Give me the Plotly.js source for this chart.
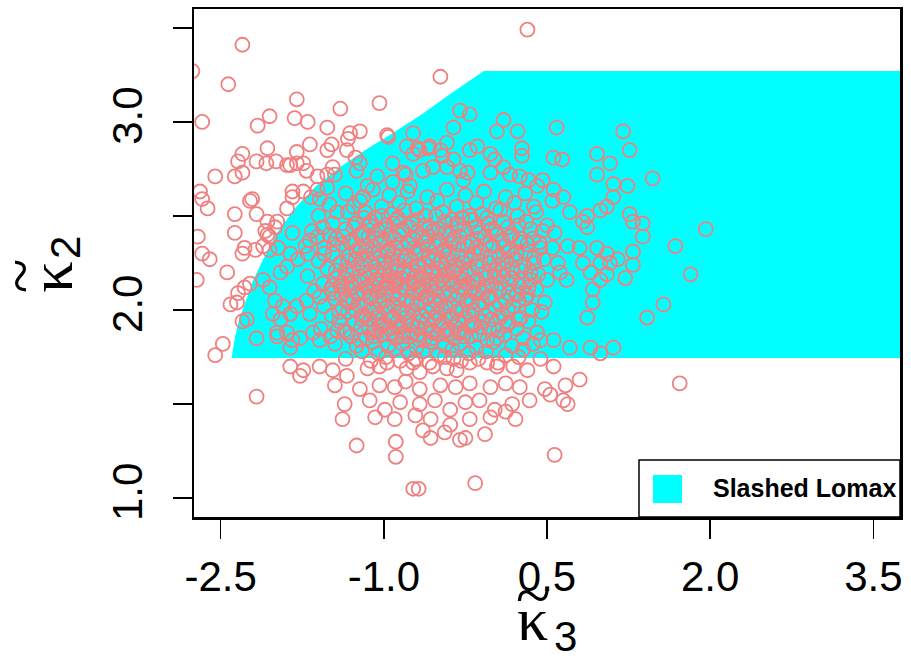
<!DOCTYPE html>
<html><head><meta charset="utf-8">
<script src="https://cdn.plot.ly/plotly-3.0.1.min.js"></script>
<style>html,body{margin:0;padding:0;background:#fff}</style>
</head><body><div id="chart" style="width:911px;height:659px"></div>
<script>
// Feasible region ("Slashed Lomax") boundary
const regionX = [-2.40, -2.37, -2.33, -2.27, -2.20, -2.10, -1.98, -1.82, -1.62, -1.40, -1.17, -0.92, -0.65, -0.36, -0.08, 3.9, 3.9];
const regionY = [1.745, 1.85, 1.95, 2.05, 2.16, 2.28, 2.41, 2.54, 2.66, 2.76, 2.85, 2.94, 3.04, 3.16, 3.27, 3.27, 1.745];

// Sample points (kappa3, kappa2)
const outerPts = [[0.32,3.49],[-2.30,3.41],[-2.76,3.27],[-2.43,3.20],[-0.48,3.24],[-2.67,3.00],[-2.16,2.98],[-2.05,3.03],[-1.80,3.12],[-1.82,3.02],
[-1.04,3.10],[-1.40,3.07],[-1.70,3.00],[-1.80,2.84],[-2.07,2.86],[-2.30,2.83],[-2.34,2.79],[-2.17,2.79],[-1.99,2.79],[-1.89,2.77],
[-2.55,2.71],[-2.37,2.71],[-2.30,2.73],[-2.69,2.63],[-2.67,2.59],[-2.62,2.54],[-2.21,2.59],[-2.23,2.58],[-2.17,2.51],[-2.37,2.51],
[-1.89,2.54],[-1.84,2.63],[-2.71,2.39],[-2.67,2.30],[-2.60,2.27],[-2.37,2.41],[-2.28,2.33],[-2.18,2.32],[-2.11,2.34],[-2.05,2.39],
[-1.98,2.47],[-2.07,2.47],[-2.44,2.20],[-2.28,2.12],[-2.72,2.16],[-2.41,2.03],[-2.35,2.04],[-2.30,1.94],[-2.55,1.76],[-2.48,1.82],
[-2.17,1.54],[-2.17,1.85],[-1.98,1.86],[-1.86,1.80],[-1.77,1.65]];
const upperLeftPts = [[-1.52,2.97],[-1.31,2.94],[-1.22,2.95],[-1.33,2.91],[-1.48,2.88],[-1.52,2.85],[-1.34,2.85],[-1.26,2.81],[-1.47,2.76],[-1.68,2.88],
[-0.96,2.92],[-2.08,2.78],[-1.86,2.77],[-1.80,2.78],[-1.74,2.78],[-1.71,2.74],[-1.61,2.71],[-1.52,2.72],[-1.45,2.72],[-1.25,2.74],
[-1.22,2.78],[-1.74,2.63],[-1.84,2.60],[-1.67,2.60],[-1.61,2.64],[-1.52,2.65],[-1.59,2.59],[-2.09,2.42],[-2.00,2.44],[-2.07,2.40],
[-2.30,2.30],[-2.05,2.32],[-1.97,2.33],[-1.84,2.41],[-2.23,2.14],[-2.34,2.09],[-2.26,1.95]];
const edgePts = [[-2.11,2.16],[-1.95,2.20],[-1.89,2.23],[-1.79,2.27],[-1.86,2.30],[-1.70,2.30],[-1.68,2.37],[-1.61,2.39],[-1.56,2.44],[-1.47,2.46],
[-1.43,2.52],[-1.33,2.52],[-1.28,2.55],[-1.19,2.60],[-1.15,2.66],[-1.06,2.71],[-0.92,2.78],[-0.82,2.73],[-0.76,2.66],[-0.92,2.68],
[-0.73,2.83],[-0.67,2.85],[-0.58,2.87],[-0.48,2.85],[-0.42,2.89],[-0.36,2.80],[-0.30,2.74],[-0.27,2.69],[-0.21,2.85],[-0.30,3.06],
[-0.21,3.04],[-0.36,2.97],[-0.73,2.94],
[-2.05,2.12],[-2.00,2.05],[-1.93,2.02],[-2.02,1.98],[-1.95,1.95],[-1.86,1.98],[-1.80,2.02],[-1.71,2.05],[-1.59,2.07],[-1.49,2.11],
[-1.40,2.13],[-1.34,2.05],[-1.25,2.09],[-1.15,2.12],[-1.06,2.16],[-0.97,2.12],[-0.88,2.16],[-0.82,2.20],[-0.73,2.14],[-0.67,2.12],
[-0.57,2.20],[-0.48,2.16],[-0.36,2.20],[-0.27,2.16],[-0.18,2.12],
[-1.98,1.88],[-1.89,1.88],[-1.84,1.84],[-1.77,1.85],[-1.65,1.88],[-1.59,1.84],[-1.49,1.86],[-1.43,1.89],[-1.34,1.88],[-1.22,1.84],
[-1.10,1.88],[-1.04,1.91],[-0.92,1.88],[-0.85,1.91],[-0.73,1.88],[-0.67,1.84],[-0.55,1.88],[-0.42,1.89],[-0.30,1.88],[-0.21,1.91],
[-1.86,1.70],[-1.74,1.68],[-1.59,1.70],[-1.47,1.68],[-1.34,1.65],[-1.15,1.69],[-1.04,1.70],[-0.97,1.72],[-0.79,1.69],[-0.73,1.72],
[-0.67,1.67],[-0.55,1.70],[-0.42,1.69],[-0.36,1.74]];
const rightPts = [[0.10,3.01],[0.04,2.95],[0.23,2.95],[0.27,2.86],[0.27,2.82],[0.59,2.97],[1.20,2.95],[1.26,2.85],[0.96,2.83],[1.08,2.78],
[0.56,2.81],[0.64,2.80],[1.47,2.70],[-0.97,2.93],[-0.79,2.87],[-0.69,2.86],[-0.59,2.86],[-0.46,2.82],[-0.14,2.87],[-0.02,2.83],
[0.02,2.80],[0.10,2.76],[-0.02,2.73],[0.16,2.72],[0.25,2.71],[0.33,2.69],[0.41,2.66],[0.46,2.69],[0.56,2.64],[0.65,2.60],
[-0.80,2.72],[-0.64,2.74],[-0.55,2.76],[-0.42,2.76],[-0.23,2.73],
[0.96,2.72],[1.11,2.67],[1.24,2.66],[1.11,2.60],[1.05,2.55],[0.99,2.53],[0.87,2.50],[0.87,2.44],[1.26,2.51],[1.29,2.47],
[1.38,2.46],[1.38,2.39],[1.29,2.31],[1.29,2.24],[1.22,2.17],[0.71,2.52],[0.83,2.47],[1.68,2.34],[1.57,2.03],[1.42,1.96],
[0.69,2.34],[0.80,2.33],[0.96,2.33],[1.05,2.30],[1.15,2.27],[1.08,2.25],[0.99,2.25],[0.83,2.25],[0.90,2.20],[1.05,2.19],
[0.99,2.16],[0.92,2.11],[0.92,2.04],[0.87,1.96],[0.68,2.16],[0.62,2.20],[0.50,2.16],[0.44,2.33],[0.37,2.38],[0.46,2.42],
[0.71,1.80],[0.90,1.80],[0.99,1.77],[1.11,1.80],[0.44,1.84],[0.56,1.84],[0.28,1.79],[0.44,1.74],[0.56,1.70],[0.32,1.68],
[0.19,1.70],[0.04,1.70],[-0.05,1.72],[-0.21,1.72],[-0.33,1.68],
[1.96,2.43],[1.82,2.19],[1.72,1.61]];
const lowerPts = [[0.65,1.52],[0.69,1.50],[0.57,1.23],[-0.16,1.08],[-0.73,1.05],[-0.68,1.05],[-1.25,1.28],[-0.89,1.30],[-0.57,1.32],[-0.30,1.31],
[-0.07,1.34],[-0.89,1.22],
[-1.45,1.60],[-1.22,1.58],[-1.04,1.60],[-0.90,1.59],[-0.80,1.62],[-0.67,1.58],[-0.48,1.60],[-0.34,1.59],[-0.21,1.61],[-0.02,1.59],
[0.12,1.61],[0.25,1.59],[0.48,1.58],[0.67,1.60],[0.80,1.63],[-1.36,1.50],[-1.13,1.52],[-0.99,1.47],[-0.85,1.51],[-0.67,1.50],
[-0.53,1.52],[-0.39,1.47],[-0.25,1.51],[-0.12,1.52],[0.02,1.47],[0.18,1.50],[0.34,1.52],[0.53,1.55],[-1.38,1.42],[-1.08,1.43],
[-0.90,1.42],[-0.71,1.44],[-0.57,1.42],[-0.39,1.39],[-0.21,1.42],[-0.02,1.43],[0.12,1.46],[0.21,1.42],[-0.64,1.36],[-0.44,1.35],
[-0.25,1.32]];
const corePts = [
[-1.35,2.62],[-1.1,2.64],[-0.95,2.61],[-0.78,2.63],[-0.6,2.6],[-0.42,2.64],[-0.25,2.61],[-0.08,2.63],[0.12,2.6],[0.3,2.62],
[-1.5,2.56],[-1.22,2.58],[-1.02,2.55],[-0.86,2.57],[-0.7,2.54],[-0.51,2.58],[-0.33,2.55],[-0.15,2.57],[0.03,2.54],[0.2,2.57],[0.38,2.55],[0.55,2.58],
[-1.6,2.5],[-1.17,2.52],[-1.08,2.49],[-0.93,2.51],[-0.81,2.53],[-0.62,2.5],[-0.46,2.52],[-0.28,2.49],[-0.1,2.51],[0.07,2.53],[0.23,2.5],[0.4,2.52],
[-1.26,2.46],[-1.12,2.47],[-0.98,2.45],[-0.88,2.48],[-0.74,2.46],[-0.58,2.44],[-0.44,2.47],[-0.31,2.45],[-0.19,2.48],[-0.04,2.46],[0.14,2.44],[0.31,2.47],[0.5,2.45],
[-1.66,2.42],[-1.5,2.4],[-1.35,2.43],[-1.2,2.41],[-1.05,2.42],[-0.95,2.4],[-0.83,2.43],[-0.7,2.41],[-0.55,2.42],[-0.4,2.4],[-0.26,2.43],[-0.12,2.41],[0.02,2.42],[0.18,2.4],[0.35,2.43],[0.57,2.41],
[-1.44,2.38],[-1.29,2.37],[-1.14,2.39],[-1.0,2.37],[-0.9,2.38],[-0.78,2.36],[-0.64,2.39],[-0.5,2.37],[-0.36,2.38],[-0.2,2.36],[-0.07,2.39],[0.09,2.37],[0.25,2.38],[0.43,2.36],
[-1.72,2.34],[-1.55,2.33],[-1.38,2.35],[-1.23,2.33],[-1.1,2.34],[-0.96,2.32],[-0.84,2.35],[-0.72,2.33],[-0.59,2.34],[-0.45,2.32],[-0.31,2.35],[-0.15,2.33],[0.0,2.34],[0.16,2.32],[0.32,2.35],[0.55,2.33],
[-1.47,2.3],[-1.32,2.29],[-1.17,2.31],[-1.03,2.29],[-0.91,2.3],[-0.8,2.28],[-0.66,2.31],[-0.53,2.29],[-0.4,2.3],[-0.25,2.28],[-0.1,2.31],[0.06,2.29],[0.22,2.3],[0.38,2.28],
[-1.6,2.26],[-1.4,2.25],[-1.26,2.27],[-1.12,2.25],[-0.99,2.26],[-0.87,2.24],[-0.75,2.27],[-0.62,2.25],[-0.48,2.26],[-0.34,2.24],[-0.2,2.27],[-0.03,2.25],[0.13,2.26],[0.29,2.24],[0.47,2.27],[0.6,2.25],
[-1.52,2.22],[-1.35,2.21],[-1.2,2.23],[-1.06,2.21],[-0.94,2.22],[-0.82,2.2],[-0.69,2.23],[-0.56,2.21],[-0.43,2.22],[-0.29,2.2],[-0.14,2.23],[0.02,2.21],[0.18,2.22],[0.35,2.2],
[-1.7,2.18],[-1.44,2.17],[-1.29,2.19],[-1.15,2.17],[-1.02,2.18],[-0.9,2.16],[-0.78,2.19],[-0.64,2.17],[-0.51,2.18],[-0.38,2.16],[-0.22,2.19],[-0.06,2.17],[0.1,2.18],[0.27,2.16],[0.42,2.19],
[-1.56,2.14],[-1.38,2.13],[-1.22,2.15],[-1.1,2.13],[-0.97,2.14],[-0.84,2.12],[-0.71,2.15],[-0.58,2.13],[-0.45,2.14],[-0.3,2.12],[-0.17,2.15],[-0.01,2.13],[0.15,2.14],[0.33,2.12],
[-1.64,2.1],[-1.47,2.09],[-1.32,2.11],[-1.18,2.09],[-1.05,2.1],[-0.92,2.08],[-0.8,2.11],[-0.66,2.09],[-0.53,2.1],[-0.39,2.08],[-0.25,2.11],[-0.09,2.09],[0.06,2.1],[0.22,2.08],[0.4,2.11],
[-1.45,2.06],[-1.28,2.05],[-1.13,2.07],[-1.0,2.05],[-0.87,2.06],[-0.74,2.04],[-0.61,2.07],[-0.48,2.05],[-0.34,2.06],[-0.19,2.04],[-0.04,2.07],[0.12,2.05],[0.3,2.06],[0.48,2.04],
[-1.55,2.02],[-1.38,2.01],[-1.24,2.03],[-1.09,2.01],[-0.96,2.02],[-0.83,2.0],[-0.7,2.03],[-0.56,2.01],[-0.43,2.02],[-0.28,2.0],[-0.13,2.03],[0.03,2.01],[0.19,2.02],[0.36,2.0],
[-1.68,1.98],[-1.48,1.97],[-1.33,1.99],[-1.19,1.97],[-1.05,1.98],[-0.92,1.96],[-0.79,1.99],[-0.65,1.97],[-0.51,1.98],[-0.37,1.96],[-0.22,1.99],[-0.07,1.97],[0.09,1.98],[0.26,1.96],[0.45,1.99],
[-1.41,1.94],[-1.27,1.93],[-1.13,1.95],[-1.0,1.93],[-0.87,1.94],[-0.74,1.92],[-0.6,1.95],[-0.46,1.93],[-0.32,1.94],[-0.17,1.92],[-0.01,1.95],[0.15,1.93],[0.33,1.94],
[-1.58,1.9],[-1.36,1.89],[-1.21,1.91],[-1.08,1.89],[-0.95,1.9],[-0.82,1.88],[-0.69,1.91],[-0.55,1.89],[-0.41,1.9],[-0.26,1.88],[-0.11,1.91],[0.05,1.89],[0.22,1.9],[0.41,1.88],
[-1.3,1.86],[-1.16,1.85],[-1.02,1.87],[-0.89,1.85],[-0.76,1.86],[-0.63,1.84],[-0.5,1.87],[-0.35,1.85],[-0.2,1.86],[-0.05,1.84],[0.11,1.87],[0.28,1.85],
[-1.45,1.82],[-1.25,1.81],[-1.1,1.83],[-0.96,1.81],[-0.83,1.82],[-0.7,1.8],[-0.57,1.83],[-0.44,1.81],[-0.3,1.82],[-0.15,1.8],[0.01,1.83],[0.18,1.81],[0.37,1.82],
[-1.2,1.78],[-1.05,1.77],[-0.9,1.79],[-0.77,1.77],[-0.64,1.78],[-0.5,1.76],[-0.37,1.79],[-0.22,1.77],[-0.06,1.78],[0.12,1.76],
[-1.35,1.74],[-1.12,1.73],[-0.98,1.75],[-0.85,1.73],[-0.71,1.74],[-0.58,1.72],[-0.44,1.75],[-0.29,1.73],[-0.13,1.74],[0.05,1.72],[0.24,1.75]];
const coreFillPts = [
[-1.18,2.49],[-1.02,2.5],[-0.87,2.49],[-0.69,2.48],[-0.52,2.5],[-0.37,2.48],[-0.21,2.5],[-0.05,2.49],[0.1,2.47],
[-1.28,2.44],[-1.13,2.45],[-0.99,2.43],[-0.91,2.46],[-0.76,2.44],[-0.63,2.45],[-0.49,2.43],[-0.33,2.46],[-0.16,2.44],[-0.01,2.43],[0.24,2.45],
[-1.37,2.39],[-1.22,2.4],[-1.07,2.38],[-0.85,2.4],[-0.73,2.38],[-0.59,2.39],[-0.44,2.41],[-0.3,2.39],[-0.14,2.38],[0.04,2.4],[0.16,2.39],
[-1.46,2.35],[-1.31,2.36],[-1.16,2.34],[-1.03,2.36],[-0.88,2.33],[-0.77,2.35],[-0.63,2.36],[-0.52,2.34],[-0.38,2.36],[-0.23,2.34],[-0.06,2.35],[0.1,2.34],[0.26,2.36],
[-1.55,2.3],[-1.25,2.31],[-1.1,2.3],[-0.97,2.31],[-0.84,2.29],[-0.71,2.3],[-0.59,2.28],[-0.45,2.31],[-0.32,2.29],[-0.17,2.3],[-0.02,2.28],[0.14,2.31],[0.3,2.3],
[-1.33,2.26],[-1.19,2.27],[-1.05,2.25],[-0.93,2.27],[-0.81,2.26],[-0.68,2.24],[-0.55,2.26],[-0.41,2.27],[-0.27,2.25],[-0.11,2.26],[0.05,2.24],[0.21,2.27],[0.38,2.25],
[-1.44,2.21],[-1.28,2.22],[-1.13,2.2],[-0.99,2.22],[-0.88,2.21],[-0.75,2.22],[-0.62,2.2],[-0.5,2.22],[-0.36,2.21],[-0.21,2.22],[-0.06,2.2],[0.1,2.22],[0.26,2.21],
[-1.36,2.17],[-1.22,2.18],[-1.08,2.16],[-0.96,2.18],[-0.84,2.17],[-0.71,2.18],[-0.58,2.16],[-0.44,2.18],[-0.3,2.17],[-0.14,2.16],[0.02,2.18],[0.18,2.17],[0.35,2.16],
[-1.47,2.13],[-1.3,2.14],[-1.16,2.12],[-1.03,2.14],[-0.9,2.13],[-0.77,2.14],[-0.64,2.12],[-0.51,2.14],[-0.37,2.13],[-0.23,2.14],[-0.08,2.12],[0.07,2.14],[0.24,2.13],
[-1.39,2.08],[-1.24,2.09],[-1.11,2.07],[-0.98,2.09],[-0.85,2.08],[-0.72,2.09],[-0.59,2.07],[-0.45,2.09],[-0.31,2.08],[-0.16,2.09],[-0.02,2.07],[0.15,2.09],[0.32,2.08],
[-1.32,2.04],[-1.18,2.03],[-1.04,2.05],[-0.91,2.03],[-0.79,2.05],[-0.66,2.04],[-0.53,2.05],[-0.39,2.03],[-0.24,2.05],[-0.09,2.04],[0.07,2.03],[0.24,2.05],
[-1.41,1.99],[-1.26,2.0],[-1.12,1.99],[-0.99,2.01],[-0.86,1.99],[-0.73,2.0],[-0.6,1.99],[-0.47,2.01],[-0.33,1.99],[-0.18,2.0],[-0.03,1.99],[0.14,2.0],
[-1.2,1.95],[-1.06,1.96],[-0.93,1.95],[-0.8,1.96],[-0.67,1.94],[-0.53,1.96],[-0.39,1.95],[-0.25,1.96],[-0.09,1.94],[0.07,1.96],[0.24,1.95],
[-1.14,1.91],[-1.01,1.92],[-0.88,1.91],[-0.75,1.92],[-0.62,1.9],[-0.48,1.92],[-0.34,1.91],[-0.19,1.92],[-0.03,1.9],[0.13,1.92],
[-1.09,1.86],[-0.95,1.87],[-0.82,1.86],[-0.69,1.87],[-0.56,1.85],[-0.42,1.87],[-0.27,1.86],[-0.12,1.87],[0.04,1.85]];

const xTickVals = [-2.5, -1.0, 0.5, 2.0, 3.5];
const xTickText = ["-2.5", "-1.0", "0.5", "2.0", "3.5"];
const yTickVals = [1.0, 1.5, 2.0, 2.5, 3.0, 3.5];
const yTickText = ["1.0", "", "2.0", "", "3.0", ""];
const legendLabel = "Slashed Lomax";

const allPts = [].concat(corePts, coreFillPts, outerPts, upperLeftPts, edgePts, rightPts, lowerPts);
const px = allPts.map(p => p[0]);
const py = allPts.map(p => p[1]);

const CORAL = '#F08080';
const CYAN = '#00FFFF';
const SANS = 'Liberation Sans, Arial, Helvetica, sans-serif';
const SERIF = 'Liberation Serif, Times New Roman, serif';

const traces = [
  {x: regionX, y: regionY, type: 'scatter', mode: 'lines', fill: 'toself', fillcolor: CYAN,
   line: {width: 0, color: CYAN}, hoverinfo: 'skip', showlegend: false, name: legendLabel},
  {x: px, y: py, type: 'scatter', mode: 'markers', showlegend: false,
   marker: {symbol: 'circle-open', size: 14, color: CORAL, line: {width: 1.8, color: CORAL}}}
];

const axisCommon = {
  showgrid: false, zeroline: false, showline: true, mirror: true, linecolor: '#000', linewidth: 2.5,
  ticks: 'outside', ticklen: 19, tickwidth: 1.5, tickcolor: '#000',
  tickfont: {family: SANS, size: 42, color: '#000'}
};

const layout = {
  width: 911, height: 659,
  margin: {l: 194, r: 11, t: 9, b: 142},
  paper_bgcolor: '#fff', plot_bgcolor: '#fff',
  showlegend: false,
  xaxis: Object.assign({}, axisCommon, {range: [-2.745, 3.745], tickmode: 'array', tickvals: xTickVals, ticktext: xTickText, ticklabelstandoff: 2}),
  yaxis: Object.assign({}, axisCommon, {range: [0.9, 3.6], tickmode: 'array', tickvals: yTickVals, ticktext: yTickText, tickangle: -90, ticklabelstandoff: 14}),
  shapes: [
    {type: 'rect', xref: 'paper', yref: 'paper', x0: 0.6303, x1: 1, y0: 0, y1: 0.1122, layer: 'above',
     fillcolor: '#fff', line: {color: '#000', width: 1.5}},
    {type: 'rect', xref: 'paper', yref: 'paper', x0: 0.6501, x1: 0.6912, y0: 0.0276, y1: 0.0827, layer: 'above',
     fillcolor: CYAN, line: {width: 0}}
  ],
  annotations: [
    {xref: 'paper', yref: 'paper', x: 0.7319, y: 0.0571, xanchor: 'left', yanchor: 'middle', showarrow: false,
     text: '<b>' + legendLabel + '</b>', font: {family: SANS, size: 25, color: '#000'}},
    // x axis title: tilde kappa_3
    {xref: 'paper', yref: 'paper', x: 0.4788, y: -0.20, xanchor: 'center', yanchor: 'middle', showarrow: false,
     text: 'κ', font: {family: SERIF, size: 62, color: '#000'}},
    {xref: 'paper', yref: 'paper', x: 0.4802, y: -0.154, xanchor: 'center', yanchor: 'middle', showarrow: false,
     text: '~', font: {family: SERIF, size: 64, color: '#000'}},
    {xref: 'paper', yref: 'paper', x: 0.5255, y: -0.2362, xanchor: 'center', yanchor: 'middle', showarrow: false,
     text: '3', font: {family: SANS, size: 42, color: '#000'}},
    // y axis title: tilde kappa_2
    {xref: 'paper', yref: 'paper', x: -0.203, y: 0.4724, xanchor: 'center', yanchor: 'middle', showarrow: false, textangle: -90,
     text: 'κ', font: {family: SERIF, size: 62, color: '#000'}},
    {xref: 'paper', yref: 'paper', x: -0.246, y: 0.4744, xanchor: 'center', yanchor: 'middle', showarrow: false, textangle: -90,
     text: '~', font: {family: SERIF, size: 64, color: '#000'}},
    {xref: 'paper', yref: 'paper', x: -0.1827, y: 0.5295, xanchor: 'center', yanchor: 'middle', showarrow: false, textangle: -90,
     text: '2', font: {family: SANS, size: 42, color: '#000'}}
  ]
};

Plotly.newPlot('chart', traces, layout, {displayModeBar: false, staticPlot: true});
</script></body></html>
